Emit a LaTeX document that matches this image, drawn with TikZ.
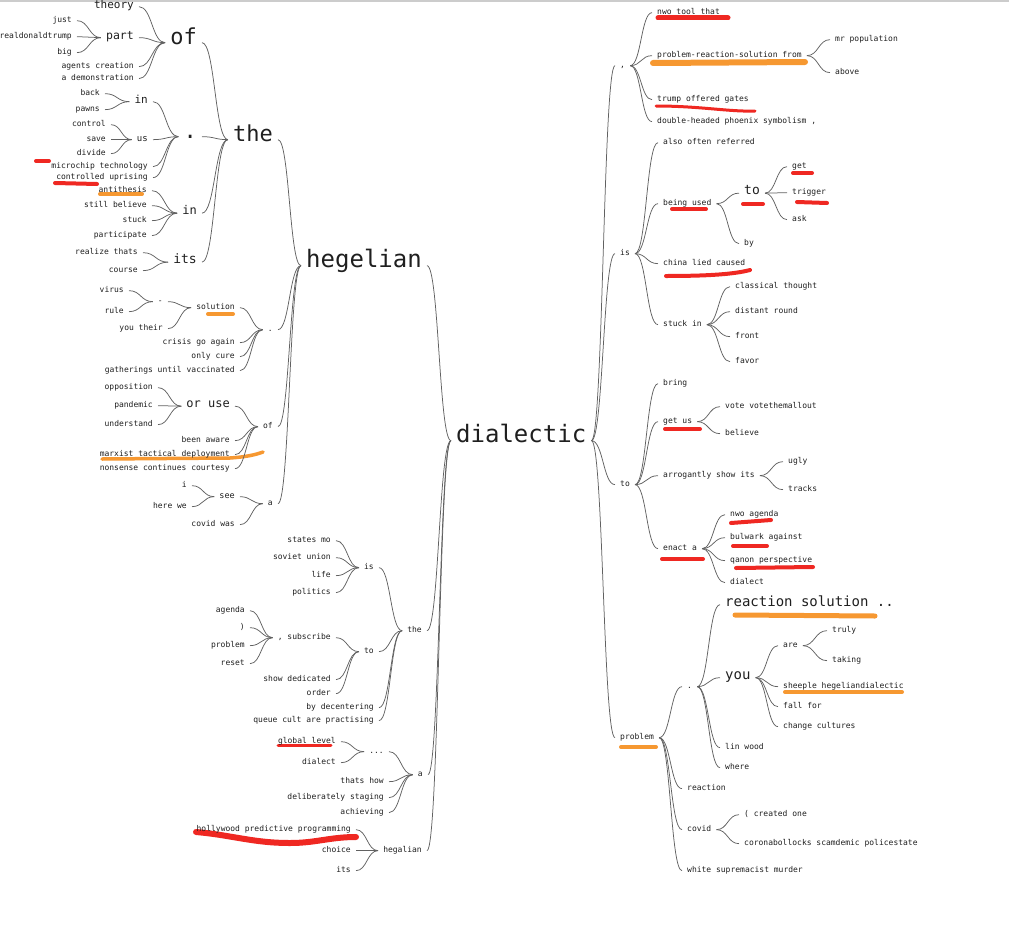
\documentclass[tikz,border=0pt]{standalone}
\usepackage{fontspec}
\newfontfamily\treefont{DejaVu Sans Mono}
\usetikzlibrary{calc}
\definecolor{mkred}{RGB}{238,28,22}
\definecolor{mkorange}{RGB}{246,146,38}
\tikzset{
  fs/.style={font=\treefont\fontsize{#1}{#1}\selectfont},
  word/.style={inner sep=0pt, text=black!88, fs=8},
  lw/.style={word, anchor=mid east},
  rw/.style={word, anchor=mid west},
  link/.style={draw=black!62, line width=0.75pt},
  redline/.style={draw=mkred, line width=4pt, line cap=round, opacity=0.95},
  orangeline/.style={draw=mkorange, line width=4pt, line cap=round, opacity=0.95}
}
\newcommand{\lnk}[2]{\draw[link] let \p1=([shift={(5pt,1.5pt)}]#1.base east),
  \p2=([shift={(-5pt,1.5pt)}]#2.base west) in
  (\p1) .. controls ({(\x1+\x2)/2},\y1) and ({(\x1+\x2)/2},\y2) .. (\p2);}

\begin{document}
\begin{tikzpicture}[x=1pt, y=-1pt]
    \useasboundingbox (0,0) rectangle (1009,934);
    \draw[black!20, line width=1.5pt] (0,1) -- (1009,1);

    \draw[redline] (36,161) -- (49,161);
    \draw[redline] (55,183) -- (97,184);
    \draw[redline, line width=3pt] (278,745) -- (331,745);
    \draw[redline, line width=6pt] (196,832) to[out=-5,in=180] (290,843) to[out=0,in=180] (356,837);
    \draw[redline, line width=5pt] (658,18) -- (728,18);
    \draw[redline, line width=3pt] (656,106) .. controls (700,106) and (730,112) .. (755,111);
    \draw[redline] (793,173) -- (812,173);
    \draw[redline] (743,204) -- (763,204);
    \draw[redline] (797,202) -- (827,203);
    \draw[redline] (672,209) -- (706,209);
    \draw[redline] (666,276) .. controls (710,276) and (735,274) .. (750,270);
    \draw[redline] (665,429) -- (700,429);
    \draw[redline] (731,523) -- (771,520);
    \draw[redline] (733,546) -- (767,546);
    \draw[redline] (736,568) -- (813,567);
    \draw[redline] (662,559) -- (703,559);
    \draw[orangeline] (100,194) -- (142,194);
    \draw[orangeline] (208,314) -- (233,314);
    \draw[orangeline, line width=3.5pt] (102,459) -- (230,458) .. controls (245,457) and (255,455) .. (263,452);
    \draw[orangeline, line width=6pt] (653,63) -- (805,62);
    \draw[orangeline, line width=5pt] (735,615) -- (875,616);
    \draw[orangeline] (785,692) -- (902,692);
    \draw[orangeline] (621,747) -- (656,747);

    % root
    \node[rw, fs=24] (dialectic) at (456,440) {dialectic};

    % words before
    \node[lw, fs=24] (hegelian) at (422,265) {hegelian};
    \node[lw] (the2) at (422,630) {the};
    \node[lw] (a2) at (423,774) {a};
    \node[lw] (hegalian) at (422,850) {hegalian};

    \node[lw, fs=22] (the1) at (273,139) {the};
    \node[lw] (dot1) at (273,329) {.};
    \node[lw] (of2) at (273,426) {of};
    \node[lw] (a1) at (273,503) {a};

    \node[lw, fs=22] (of1) at (197,42) {of};
    \node[lw, fs=22] (dotbig) at (197,136) {.};
    \node[lw, fs=12] (in2) at (197,212.5) {in};
    \node[lw, fs=13] (its1) at (197,261.5) {its};

    \node[lw, fs=11] (theory) at (134,6) {theory};
    \node[lw, fs=11.5] (part) at (134,37) {part};
    \node[lw] (agents) at (134,66) {agents creation};
    \node[lw] (demo) at (134,78) {a demonstration};
    \node[lw] (just) at (72,20) {just};
    \node[lw] (rdt) at (72,36) {realdonaldtrump};
    \node[lw] (big) at (72,52) {big};

    \node[lw, fs=11] (in1) at (148,101) {in};
    \node[lw, fs=9] (us) at (148,139) {us};
    \node[lw] (microchip) at (148,166) {microchip technology};
    \node[lw] (uprising) at (148,177) {controlled uprising};
    \node[lw] (back) at (100,93) {back};
    \node[lw] (pawns) at (100,109) {pawns};
    \node[lw] (control) at (106,124) {control};
    \node[lw] (save) at (106,139) {save};
    \node[lw] (divide) at (106,153) {divide};

    \node[lw] (antithesis) at (147,190) {antithesis};
    \node[lw] (believe1) at (147,205) {still believe};
    \node[lw] (stuck) at (147,220) {stuck};
    \node[lw] (participate) at (147,235) {participate};
    \node[lw] (realize) at (138,252) {realize thats};
    \node[lw] (course) at (138,270) {course};

    \node[lw] (solution) at (235,307) {solution};
    \node[lw] (crisis) at (235,342) {crisis go again};
    \node[lw] (cure) at (235,356) {only cure};
    \node[lw] (gatherings) at (235,370) {gatherings until vaccinated};
    \node[lw] (dash) at (163,301) {-};
    \node[lw] (youtheir) at (163,328) {you their};
    \node[lw] (virus) at (124,290) {virus};
    \node[lw] (rule) at (124,311) {rule};

    \node[lw, fs=12] (oruse) at (230,405.5) {or use};
    \node[lw] (aware) at (230,440) {been aware};
    \node[lw] (marxist) at (230,454) {marxist tactical deployment};
    \node[lw] (nonsense) at (230,468) {nonsense continues courtesy};
    \node[lw] (opposition) at (153,387) {opposition};
    \node[lw] (pandemic) at (153,405) {pandemic};
    \node[lw] (understand) at (153,424) {understand};

    \node[lw, fs=8.5] (see) at (235,496) {see};
    \node[lw] (covidwas) at (235,524) {covid was};
    \node[lw] (i) at (187,485) {i};
    \node[lw] (herewe) at (187,506) {here we};

    \node[lw] (is1) at (374,567) {is};
    \node[lw] (to1) at (374,651) {to};
    \node[lw] (decentering) at (374,707) {by decentering};
    \node[lw] (queue) at (374,720) {queue cult are practising};
    \node[lw] (states) at (331,540) {states mo};
    \node[lw] (soviet) at (331,557) {soviet union};
    \node[lw] (life) at (331,575) {life};
    \node[lw] (politics) at (331,592) {politics};
    \node[lw] (subscribe) at (331,637) {, subscribe};
    \node[lw] (dedicated) at (331,679) {show dedicated};
    \node[lw] (order) at (331,693) {order};
    \node[lw] (agenda1) at (245,610) {agenda};
    \node[lw] (paren) at (245,627) {)};
    \node[lw] (problem1) at (245,645) {problem};
    \node[lw] (reset) at (245,663) {reset};

    \node[lw] (dots) at (384,751) {...};
    \node[lw] (thatshow) at (384,781) {thats how};
    \node[lw] (staging) at (384,797) {deliberately staging};
    \node[lw] (achieving) at (384,812) {achieving};
    \node[lw] (global) at (336,741) {global level};
    \node[lw] (dialect1) at (336,762) {dialect};

    \node[lw] (hollywood) at (351,829) {hollywood predictive programming};
    \node[lw] (choice) at (351,850) {choice};
    \node[lw] (its2) at (351,870) {its};

    % words after
    \node[rw] (comma) at (620,65) {,};
    \node[rw] (is2) at (620,253) {is};
    \node[rw] (to2) at (620,484) {to};
    \node[rw] (problem2) at (620,737) {problem};

    \node[rw] (nwotool) at (657,12) {nwo tool that};
    \node[rw] (prs) at (657,55) {problem-reaction-solution from};
    \node[rw] (trump) at (657,99) {trump offered gates};
    \node[rw] (phoenix) at (657,121) {double-headed phoenix symbolism ,};
    \node[rw] (population) at (835,39) {mr population};
    \node[rw] (above) at (835,72) {above};

    \node[rw] (referred) at (663,142) {also often referred};
    \node[rw] (beingused) at (663,203) {being used};
    \node[rw] (china) at (663,263) {china lied caused};
    \node[rw] (stuckin) at (663,324) {stuck in};
    \node[rw, fs=13] (to3) at (744,192.5) {to};
    \node[rw] (by) at (744,243) {by};
    \node[rw] (get) at (792,166) {get};
    \node[rw] (trigger) at (792,192) {trigger};
    \node[rw] (ask) at (792,219) {ask};
    \node[rw] (classical) at (735,286) {classical thought};
    \node[rw] (distant) at (735,311) {distant round};
    \node[rw] (front) at (735,336) {front};
    \node[rw] (favor) at (735,361) {favor};

    \node[rw] (bring) at (663,383) {bring};
    \node[rw] (getus) at (663,421) {get us};
    \node[rw] (arrogantly) at (663,475) {arrogantly show its};
    \node[rw] (enacta) at (663,548) {enact a};
    \node[rw] (vote) at (725,406) {vote votethemallout};
    \node[rw] (believe2) at (725,433) {believe};
    \node[rw] (ugly) at (788,461) {ugly};
    \node[rw] (tracks) at (788,489) {tracks};
    \node[rw] (nwoagenda) at (730,514) {nwo agenda};
    \node[rw] (bulwark) at (730,537) {bulwark against};
    \node[rw] (qanon) at (730,560) {qanon perspective};
    \node[rw] (dialect2) at (730,582) {dialect};

    \node[rw] (dot2) at (687,686) {.};
    \node[rw] (reaction) at (687,788) {reaction};
    \node[rw] (covid) at (687,829) {covid};
    \node[rw] (murder) at (687,870) {white supremacist murder};
    \node[rw, fs=14] (reactsol) at (725,604) {reaction solution ..};
    \node[rw, fs=14] (you) at (725,677) {you};
    \node[rw] (linwood) at (725,747) {lin wood};
    \node[rw] (where) at (725,767) {where};
    \node[rw] (are) at (783,645) {are};
    \node[rw] (sheeple) at (783,686) {sheeple hegeliandialectic};
    \node[rw] (fallfor) at (783,706) {fall for};
    \node[rw] (cultures) at (783,726) {change cultures};
    \node[rw] (truly) at (832,630) {truly};
    \node[rw] (taking) at (832,660) {taking};
    \node[rw] (created) at (744,814) {( created one};
    \node[rw] (corona) at (744,843) {coronabollocks scamdemic policestate};

    % links, left side
    \foreach \c in {hegelian,the2,a2,hegalian} \lnk{\c}{dialectic};
    \foreach \c in {the1,dot1,of2,a1} \lnk{\c}{hegelian};
    \foreach \c in {of1,dotbig,in2,its1} \lnk{\c}{the1};
    \foreach \c in {theory,part,agents,demo} \lnk{\c}{of1};
    \foreach \c in {just,rdt,big} \lnk{\c}{part};
    \foreach \c in {in1,us,microchip,uprising} \lnk{\c}{dotbig};
    \foreach \c in {back,pawns} \lnk{\c}{in1};
    \foreach \c in {control,save,divide} \lnk{\c}{us};
    \foreach \c in {antithesis,believe1,stuck,participate} \lnk{\c}{in2};
    \foreach \c in {realize,course} \lnk{\c}{its1};
    \foreach \c in {solution,crisis,cure,gatherings} \lnk{\c}{dot1};
    \foreach \c in {dash,youtheir} \lnk{\c}{solution};
    \foreach \c in {virus,rule} \lnk{\c}{dash};
    \foreach \c in {oruse,aware,marxist,nonsense} \lnk{\c}{of2};
    \foreach \c in {opposition,pandemic,understand} \lnk{\c}{oruse};
    \foreach \c in {see,covidwas} \lnk{\c}{a1};
    \foreach \c in {i,herewe} \lnk{\c}{see};
    \foreach \c in {is1,to1,decentering,queue} \lnk{\c}{the2};
    \foreach \c in {states,soviet,life,politics} \lnk{\c}{is1};
    \foreach \c in {subscribe,dedicated,order} \lnk{\c}{to1};
    \foreach \c in {agenda1,paren,problem1,reset} \lnk{\c}{subscribe};
    \foreach \c in {dots,thatshow,staging,achieving} \lnk{\c}{a2};
    \foreach \c in {global,dialect1} \lnk{\c}{dots};
    \foreach \c in {hollywood,choice,its2} \lnk{\c}{hegalian};

    % links, right side
    \foreach \c in {comma,is2,to2,problem2} \lnk{dialectic}{\c};
    \foreach \c in {nwotool,prs,trump,phoenix} \lnk{comma}{\c};
    \foreach \c in {population,above} \lnk{prs}{\c};
    \foreach \c in {referred,beingused,china,stuckin} \lnk{is2}{\c};
    \foreach \c in {to3,by} \lnk{beingused}{\c};
    \foreach \c in {get,trigger,ask} \lnk{to3}{\c};
    \foreach \c in {classical,distant,front,favor} \lnk{stuckin}{\c};
    \foreach \c in {bring,getus,arrogantly,enacta} \lnk{to2}{\c};
    \foreach \c in {vote,believe2} \lnk{getus}{\c};
    \foreach \c in {ugly,tracks} \lnk{arrogantly}{\c};
    \foreach \c in {nwoagenda,bulwark,qanon,dialect2} \lnk{enacta}{\c};
    \foreach \c in {dot2,reaction,covid,murder} \lnk{problem2}{\c};
    \foreach \c in {reactsol,you,linwood,where} \lnk{dot2}{\c};
    \foreach \c in {are,sheeple,fallfor,cultures} \lnk{you}{\c};
    \foreach \c in {truly,taking} \lnk{are}{\c};
    \foreach \c in {created,corona} \lnk{covid}{\c};
\end{tikzpicture}
\end{document}
